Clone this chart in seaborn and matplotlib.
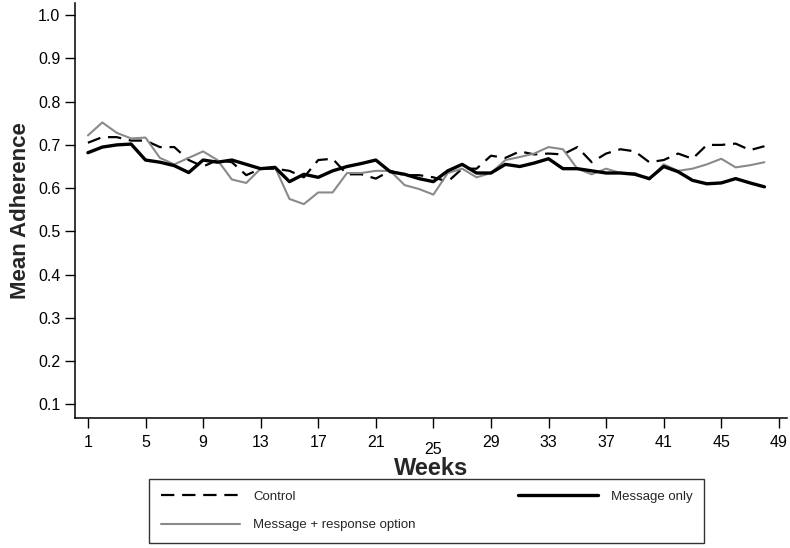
import numpy as np
import pandas as pd
import matplotlib
matplotlib.use("Agg")
import matplotlib.pyplot as plt
import matplotlib.transforms as mtransforms
import seaborn as sns

weeks = list(range(1, 49))
control = [0.705, 0.718, 0.718, 0.710, 0.710, 0.695, 0.695, 0.665, 0.650, 0.665,
           0.660, 0.630, 0.645, 0.645, 0.640, 0.625, 0.665, 0.668, 0.632, 0.632,
           0.622, 0.640, 0.630, 0.630, 0.625, 0.615, 0.645, 0.645, 0.675, 0.670,
           0.685, 0.678, 0.680, 0.678, 0.695, 0.660, 0.680, 0.690, 0.685, 0.660,
           0.665, 0.680, 0.668, 0.700, 0.700, 0.703, 0.688, 0.697]
message_only = [0.682, 0.695, 0.700, 0.702, 0.665, 0.660, 0.652, 0.636, 0.665, 0.660,
                0.665, 0.655, 0.645, 0.648, 0.615, 0.632, 0.625, 0.640, 0.650, 0.657,
                0.665, 0.638, 0.632, 0.622, 0.615, 0.640, 0.655, 0.635, 0.635, 0.655,
                0.650, 0.658, 0.668, 0.645, 0.645, 0.640, 0.635, 0.635, 0.632, 0.622,
                0.650, 0.638, 0.618, 0.610, 0.612, 0.622, 0.612, 0.603]
message_response = [0.722, 0.752, 0.728, 0.715, 0.717, 0.670, 0.655, 0.670, 0.685, 0.665,
                    0.620, 0.612, 0.645, 0.648, 0.575, 0.563, 0.590, 0.590, 0.635, 0.635,
                    0.640, 0.640, 0.607, 0.598, 0.585, 0.635, 0.645, 0.625, 0.635, 0.665,
                    0.672, 0.680, 0.695, 0.690, 0.645, 0.632, 0.645, 0.635, 0.635, 0.620,
                    0.655, 0.640, 0.645, 0.655, 0.668, 0.648, 0.653, 0.660]
tick_weeks = list(range(1, 50, 4))
y_ticks = [0.1, 0.2, 0.3, 0.4, 0.5, 0.6, 0.7, 0.8, 0.9, 1.0]

sns.set_style("ticks")
plt.rcParams['font.family'] = ['Liberation Sans', 'DejaVu Sans']

fig = plt.figure(figsize=(7.9, 5.48), dpi=100)
ax = fig.add_axes([0.0949, 0.2372, 0.901, 0.757])

df_c = pd.DataFrame({"Week": weeks, "Adherence": control})
df_m = pd.DataFrame({"Week": weeks, "Adherence": message_only})
df_r = pd.DataFrame({"Week": weeks, "Adherence": message_response})

sns.lineplot(data=df_c, x="Week", y="Adherence", ax=ax, color="black", lw=1.6,
             label="Control")
ax.lines[-1].set_dashes((6, 3.5))
sns.lineplot(data=df_r, x="Week", y="Adherence", ax=ax, color="#8a8a8a", lw=1.5,
             label="Message + response option")
sns.lineplot(data=df_m, x="Week", y="Adherence", ax=ax, color="black", lw=2.4,
             label="Message only")

ax.set_xlim(0.1, 49.55)
ax.set_ylim(0.068, 1.028)
ax.set_xticks(tick_weeks)
ax.set_xticklabels([str(w) for w in tick_weeks])
ax.set_yticks(y_ticks)
ax.set_yticklabels([f"{v:.1f}" for v in y_ticks])
ax.tick_params(axis='both', direction='out', length=7, width=1.0, colors='black',
               labelsize=11.5)
ax.tick_params(axis='x', pad=5)
for lab in ax.get_xticklabels():
    if lab.get_text() == "25":
        lab.set_transform(lab.get_transform() +
                          mtransforms.ScaledTranslation(0, -5/72, fig.dpi_scale_trans))
for s in ['top', 'right']:
    ax.spines[s].set_visible(False)
for s in ['left', 'bottom']:
    ax.spines[s].set_color('black')
    ax.spines[s].set_linewidth(1.1)

ax.set_xlabel("Weeks", fontsize=17, fontweight='bold', labelpad=0)
ax.set_ylabel("Mean Adherence", fontsize=16, fontweight='bold', labelpad=5)

handles, labels = ax.get_legend_handles_labels()
ax.get_legend().remove()
leg = fig.legend(handles, labels, loc='upper center', bbox_to_anchor=(0.54, 0.126),
                 ncol=2, fontsize=9.5, frameon=True, fancybox=False,
                 handlelength=6.0, columnspacing=7.8, handletextpad=1.0,
                 borderpad=0.9, labelspacing=1.2, borderaxespad=0)
leg.get_frame().set_edgecolor('black')
leg.get_frame().set_linewidth(1.0)

fig.savefig("out.png", dpi=100)
